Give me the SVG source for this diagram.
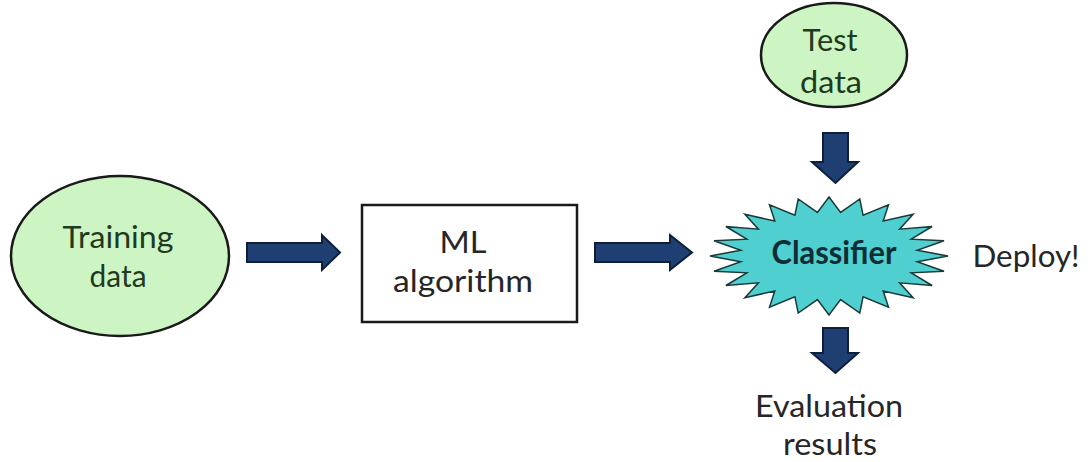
<svg xmlns="http://www.w3.org/2000/svg" width="1092" height="462" viewBox="0 0 1092 462">
<style>
.t{font-family:Lato,"Open Sans","Liberation Sans",sans-serif;font-size:31px;fill:#262626;text-anchor:middle}
.g{fill:#1f3a1f}
.b{font-weight:bold;fill:#102c35;font-size:33px}
.data{fill:#cdf5c4;stroke:#1a1a1a;stroke-width:2.5}
.arr{fill:#1f3f73;stroke:#0e1f3c;stroke-width:2;stroke-linejoin:miter}
</style>
<rect width="1092" height="462" fill="#ffffff"/>
<g id="training">
<ellipse class="data" cx="120" cy="256" rx="109" ry="80"/>
<text class="t g" x="118" y="248" textLength="111" lengthAdjust="spacingAndGlyphs">Training</text>
<text class="t g" x="118" y="287" textLength="57" lengthAdjust="spacingAndGlyphs">data</text>
</g>
<g id="ml">
<rect x="362" y="205" width="215" height="117" fill="#ffffff" stroke="#1a1a1a" stroke-width="2.5"/>
<text class="t" x="463" y="253" textLength="47" lengthAdjust="spacingAndGlyphs">ML</text>
<text class="t" x="463" y="292" textLength="140" lengthAdjust="spacingAndGlyphs">algorithm</text>
</g>
<g id="test">
<ellipse class="data" cx="834" cy="55" rx="73" ry="52"/>
<text class="t g" x="830" y="51" textLength="55" lengthAdjust="spacingAndGlyphs">Test</text>
<text class="t g" x="831" y="93" textLength="62" lengthAdjust="spacingAndGlyphs">data</text>
</g>
<g id="classifier">
<polygon fill="#4fcfcf" stroke="#1a3a3a" stroke-width="1.5" points="829,197 840.6,212.4 859.8,199 863.1,215.3 888.5,204.9 883.2,221.1 913.1,214.3 899.6,229.2 932.1,226.5 911.2,239.2 944,240.7 917.2,250.3 948,256 917.2,261.7 944,271.3 911.2,272.8 932.1,285.5 899.6,282.8 913.1,297.7 883.2,290.9 888.5,307.1 863.1,296.7 859.8,313 840.6,299.6 829,315 817.4,299.6 798.2,313 794.9,296.7 769.5,307.1 774.8,290.9 744.9,297.7 758.4,282.8 725.9,285.5 746.8,272.8 714,271.3 740.8,261.7 710,256 740.8,250.3 714,240.7 746.8,239.2 725.9,226.5 758.4,229.2 744.9,214.3 774.8,221.1 769.5,204.9 794.9,215.3 798.2,199 817.4,212.4"/>
<text class="t b" x="834" y="264" textLength="125" lengthAdjust="spacingAndGlyphs">Classifier</text>
</g>
<g id="deploy">
<text class="t" x="1026" y="267" textLength="107" lengthAdjust="spacingAndGlyphs">Deploy!</text>
</g>
<g id="evaluation">
<text class="t" x="829" y="417" textLength="148" lengthAdjust="spacingAndGlyphs">Evaluation</text>
<text class="t" x="830" y="455" textLength="94" lengthAdjust="spacingAndGlyphs">results</text>
</g>
<g id="connectors">
<polygon class="arr" points="247,243 322,243 322,235 340,252.5 322,270 322,262 247,262"/>
<polygon class="arr" points="595,243 670,243 670,235 692,252.5 670,270 670,262 595,262"/>
<polygon class="arr" points="823,133 848,133 848,162 858,162 835.5,183 812,162 823,162"/>
<polygon class="arr" points="823,328 848,328 848,353 858,353 835.5,373 812,353 823,353"/>
</g>
</svg>
